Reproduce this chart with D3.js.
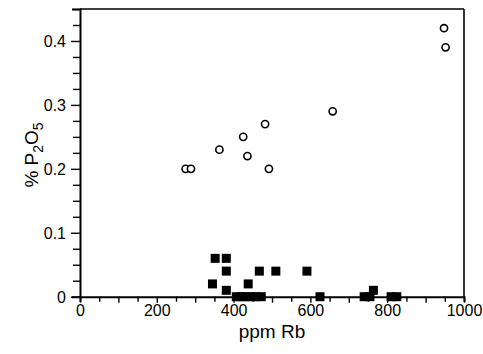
<!DOCTYPE html>
<html><head><meta charset="utf-8">
<script src="https://cdn.jsdelivr.net/npm/d3@7"></script>
<style>
body{margin:0;background:#fff;}
svg{display:block;font-family:"Liberation Sans",Arial,Helvetica,sans-serif;}
</style></head>
<body>
<svg id="chart" width="483" height="354"></svg>
<script>
// Open circles series
const circleRb = [275, 289, 363, 425, 436, 482, 492, 658, 948, 952];
const circleP2O5 = [0.20, 0.20, 0.23, 0.25, 0.22, 0.27, 0.20, 0.29, 0.42, 0.39];
// Filled squares series
const squareRb = [352, 381, 381, 345, 381, 438, 467, 510, 591, 764, 407, 420, 432, 445, 458, 472, 625, 740, 755, 810, 825];
const squareP2O5 = [0.06, 0.06, 0.04, 0.02, 0.01, 0.02, 0.04, 0.04, 0.04, 0.01, 0, 0, 0, 0, 0, 0, 0, 0, 0, 0, 0];
const xMajorTicks = [0, 200, 400, 600, 800, 1000];
const yMajorTicks = [0, 0.1, 0.2, 0.3, 0.4];
const xTickLabels = ["0", "200", "400", "600", "800", "1000"];
const yTickLabels = ["0", "0.1", "0.2", "0.3", "0.4"];

const svg = d3.select("#chart");
const L = 80, R = 464, T = 9, B = 296.7;
const x = d3.scaleLinear().domain([0, 1000]).range([L, R]);
const y = d3.scaleLinear().domain([0, 0.45]).range([B, T]);
const FONT = "Liberation Sans, Arial, sans-serif";

// frame top & right
svg.append("line").attr("x1", L).attr("x2", R).attr("y1", T).attr("y2", T).attr("stroke", "#000").attr("stroke-width", 1.6);
svg.append("line").attr("x1", R).attr("x2", R).attr("y1", T).attr("y2", B).attr("stroke", "#000").attr("stroke-width", 1.6);

// x axis minor ticks
const xMinor = d3.range(0, 1001, 50);
const gx = svg.append("g").attr("transform", `translate(0,${B})`);
gx.call(d3.axisBottom(x).tickValues(xMinor).tickSize(5).tickFormat(""));
gx.selectAll(".tick line").attr("stroke-width", 1.4)
  .attr("y2", d => d % 100 === 0 ? 6 : 5);
gx.select(".domain").attr("stroke-width", 2);
const gxl = svg.append("g").attr("transform", `translate(0,${B})`);
gxl.call(d3.axisBottom(x).tickValues(xMajorTicks).tickSize(0).tickPadding(7.5)
  .tickFormat((d, i) => xTickLabels[i]));
gxl.select(".domain").remove();
gxl.selectAll("text").attr("font-size", 16).attr("fill", "#000").attr("font-family", FONT);

// y axis
const yMinor = d3.range(0, 0.451, 0.025);
const gy = svg.append("g").attr("transform", `translate(${L},0)`);
gy.call(d3.axisLeft(y).tickValues(yMinor).tickSize(8).tickFormat(""));
gy.selectAll(".tick line").attr("stroke-width", 1.4)
  .attr("x2", d => Math.abs(d * 10 - Math.round(d * 10)) < 1e-6 ? -9 : -7);
gy.select(".domain").attr("stroke-width", 2);
const gyl = svg.append("g").attr("transform", `translate(${L},0)`);
gyl.call(d3.axisLeft(y).tickValues(yMajorTicks).tickSize(0).tickPadding(14)
  .tickFormat((d, i) => yTickLabels[i]));
gyl.select(".domain").remove();
gyl.selectAll("text").attr("font-size", 16).attr("fill", "#000").attr("font-family", FONT).attr("dy", "0.36em");

// circles
svg.append("g").selectAll("circle").data(circleRb).join("circle")
  .attr("cx", d => x(d)).attr("cy", (d, i) => y(circleP2O5[i]))
  .attr("r", 3.6).attr("fill", "#fff").attr("stroke", "#000").attr("stroke-width", 1.6);

// squares
const s = 9;
svg.append("g").selectAll("rect").data(squareRb).join("rect")
  .attr("x", d => x(d) - s / 2).attr("y", (d, i) => y(squareP2O5[i]) - s / 2)
  .attr("width", s).attr("height", s).attr("fill", "#000");

// axis titles
svg.append("text").attr("x", (L + R) / 2).attr("y", 338).attr("text-anchor", "middle")
  .attr("font-size", 19).attr("font-family", FONT).text("ppm Rb");
const yl = svg.append("text").attr("transform", "translate(38,155) rotate(-90)")
  .attr("text-anchor", "middle").attr("font-size", 19).attr("font-family", FONT);
yl.append("tspan").text("% P");
yl.append("tspan").attr("font-size", 14).attr("dy", 5).text("2");
yl.append("tspan").attr("dy", -5).text("O");
yl.append("tspan").attr("font-size", 14).attr("dy", 5).text("5");
</script>
</body></html>
